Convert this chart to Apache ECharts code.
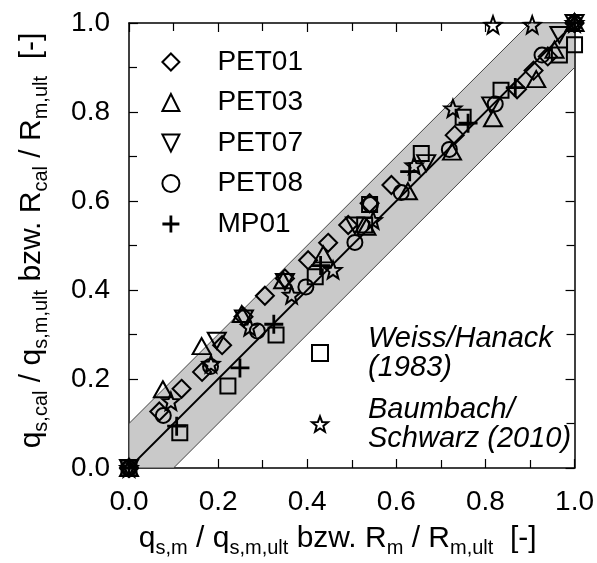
<!DOCTYPE html>
<html>
<head>
<meta charset="utf-8">
<script src="https://cdn.jsdelivr.net/npm/echarts@6/dist/echarts.min.js"></script>
<style>html,body{margin:0;padding:0;background:#fff}#c{width:597px;height:563px}</style>
</head>
<body>
<div id="c"></div>
<script>
// ---- data ----
const pet01 = [[0,0],[0.068,0.127],[0.118,0.178],[0.164,0.216],[0.209,0.276],[0.257,0.340],[0.305,0.387],[0.350,0.426],[0.402,0.467],[0.447,0.506],[0.492,0.546],[0.540,0.595],[0.589,0.636],[0.731,0.748],[0.871,0.851],[0.908,0.893],[0.940,0.925],[1,1]];
const pet03 = [[0,0],[0.076,0.177],[0.163,0.274],[0.253,0.346],[0.346,0.422],[0.436,0.480],[0.533,0.542],[0.626,0.622],[0.725,0.711],[0.817,0.786],[0.914,0.874],[0.955,0.940],[1,1]];
const pet07 = [[0,0],[0.197,0.286],[0.258,0.336],[0.350,0.418],[0.507,0.545],[0.667,0.685],[0.813,0.815],[0.966,0.973],[1,1]];
const pet08 = [[0,0],[0.077,0.118],[0.183,0.228],[0.288,0.308],[0.397,0.407],[0.507,0.507],[0.542,0.592],[0.611,0.619],[0.719,0.716],[0.822,0.818],[0.927,0.928],[1,1]];
const mp01 = [[0,0],[0.107,0.094],[0.249,0.225],[0.325,0.323],[0.430,0.455],[0.630,0.666],[0.761,0.775],[0.867,0.855],[1,1]];
const weissHanack = [[0,0],[0.114,0.079],[0.222,0.184],[0.330,0.299],[0.418,0.430],[0.529,0.546],[0.540,0.592],[0.656,0.707],[0.750,0.788],[0.835,0.849],[0.966,0.928],[1,0.951]];
const baumbachSchwarz = [[0,0],[0.094,0.150],[0.184,0.234],[0.271,0.317],[0.365,0.389],[0.458,0.445],[0.548,0.557],[0.640,0.680],[0.727,0.808],[0.817,0.996],[0.905,0.996],[1,1]];
const bandX = [0, 0, 0.9, 1, 1, 0.1];
const bandY = [0, 0.1, 1, 1, 0.9, 0];
const diagonal = [[0,0],[1,1]];
const legendTop = ['PET01','PET03','PET07','PET08','MP01'];
const legendBottom = ['Weiss/Hanack\n(1983)', 'Baumbach/\nSchwarz (2010)'];

// ---- styles ----
const FONT = '"Liberation Sans", Arial, Helvetica, sans-serif';
const STAR = 'path://M0,-1L0.247,-0.34L0.951,-0.309L0.399,0.13L0.588,0.809L0,0.42L-0.588,0.809L-0.399,0.13L-0.951,-0.309L-0.247,-0.34Z';
const PLUS = 'path://M0,-1L0,1M-1,0L1,0';
const TRI_DOWN = 'path://M-1,0L1,0L0,1.732Z';
const symbolOf = {PET01: 'diamond', PET03: 'triangle', PET07: TRI_DOWN, PET08: 'circle', MP01: PLUS};
symbolOf[legendBottom[0]] = 'rect';
symbolOf[legendBottom[1]] = STAR;
const hollow = {color: 'rgba(255,255,255,0)', borderColor: '#000', borderWidth: 2, opacity: 1};

const richTitle = {
  m: {fontSize: 30, fontFamily: FONT, color: '#000', lineHeight: 38},
  s: {fontSize: 20, fontFamily: FONT, color: '#000', lineHeight: 16, verticalAlign: 'bottom'}
};

function scatter(name, data, size) {
  return {
    type: 'scatter', name: name, data: data, symbol: symbolOf[name], symbolSize: size,
    symbolKeepAspect: false, clip: false, z: 5,
    itemStyle: Object.assign({}, hollow, name === 'MP01' ? {borderWidth: 2.8} : {}),
    emphasis: {disabled: true}
  };
}
function legendItems(names) {
  return names.map(n => ({
    name: n, icon: symbolOf[n],
    itemStyle: {color: 'rgba(255,255,255,0)', borderColor: '#000', borderWidth: n === 'MP01' ? 2.8 : 2, opacity: 1}
  }));
}

const axisCommon = {
  type: 'value', min: 0, max: 1, interval: 0.2,
  splitLine: {show: false},
  axisLine: {show: true, onZero: false, lineStyle: {color: '#000', width: 1.5}},
  axisTick: {show: true, inside: true, length: 9, lineStyle: {color: '#000', width: 1.2}},
  minorTick: {show: true, splitNumber: 2, length: 8, lineStyle: {color: '#000', width: 1.2}}
};

const chart = echarts.init(document.getElementById('c'), null, {renderer: 'canvas'});
chart.setOption({
  animation: false,
  backgroundColor: '#fff',
  grid: {left: 129, right: 22, top: 23, bottom: 95},
  xAxis: [
    Object.assign({}, axisCommon, {
      position: 'bottom',
      axisLabel: {show: true, margin: 20, fontSize: 28, fontFamily: FONT, color: '#000',
        formatter: v => v.toFixed(1), showMinLabel: true, showMaxLabel: true},
      name: '{m|q}{s|s,m}{m| / q}{s|s,m,ult}{m| bzw. R}{s|m}{m| / R}{s|m,ult}{m|  [-]}',
      nameLocation: 'middle', nameGap: 52,
      nameTextStyle: {rich: richTitle, padding: [0, 28, 0, 0]}
    }),
    Object.assign({}, axisCommon, {position: 'top', axisLabel: {show: false}})
  ],
  yAxis: [
    Object.assign({}, axisCommon, {
      position: 'left',
      axisLabel: {show: true, margin: 19, fontSize: 28, fontFamily: FONT, color: '#000',
        formatter: v => v.toFixed(1), showMinLabel: true, showMaxLabel: true},
      name: '{m|q}{s|s,cal}{m| / q}{s|s,m,ult}{m| bzw. R}{s|cal}{m| / R}{s|m,ult}{m|  [-]}',
      nameLocation: 'middle', nameGap: 78, nameRotate: 90,
      nameTextStyle: {rich: richTitle, padding: [0, 0, 0, 10]}
    }),
    Object.assign({}, axisCommon, {position: 'right', axisLabel: {show: false}})
  ],
  legend: [
    {
      data: legendItems(legendTop), orient: 'vertical', left: 161, top: 48,
      itemWidth: 17, itemHeight: 17, itemGap: 12.5, padding: 0,
      selectedMode: false, symbolKeepAspect: false,
      itemStyle: {borderWidth: 2, borderColor: '#000'},
      textStyle: {fontSize: 28, fontFamily: FONT, color: '#000', lineHeight: 28, padding: [0, 0, 0, 33]}
    },
    {
      data: legendItems(legendBottom), orient: 'vertical', left: 311, top: 324,
      itemWidth: 16, itemHeight: 16, itemGap: 13, padding: 0,
      selectedMode: false,
      itemStyle: {borderWidth: 2, borderColor: '#000'},
      textStyle: {fontSize: 29, fontStyle: 'italic', fontFamily: FONT, color: '#000', lineHeight: 29, padding: [0, 0, 0, 35]}
    }
  ],
  series: [
    {
      type: 'custom', name: 'band', z: 1, silent: true,
      data: [0],
      renderItem: function (params, api) {
        const pts = bandX.map((x, i) => api.coord([x, bandY[i]]));
        return {type: 'polygon', shape: {points: pts},
          style: {fill: '#c9c9c9', stroke: '#333', lineWidth: 0.9}};
      }
    },
    {
      type: 'line', name: 'diag', data: diagonal, symbol: 'none', z: 2, silent: true,
      lineStyle: {color: '#000', width: 1.8}
    },
    scatter('PET01', pet01, [18, 18]),
    scatter('PET03', pet03, [18, 16]),
    scatter('PET07', pet07, [18, 16]),
    scatter('PET08', pet08, 15),
    scatter('MP01', mp01, 19),
    scatter(legendBottom[0], weissHanack, 15),
    scatter(legendBottom[1], baumbachSchwarz, 17)
  ]
});
</script>
</body>
</html>
